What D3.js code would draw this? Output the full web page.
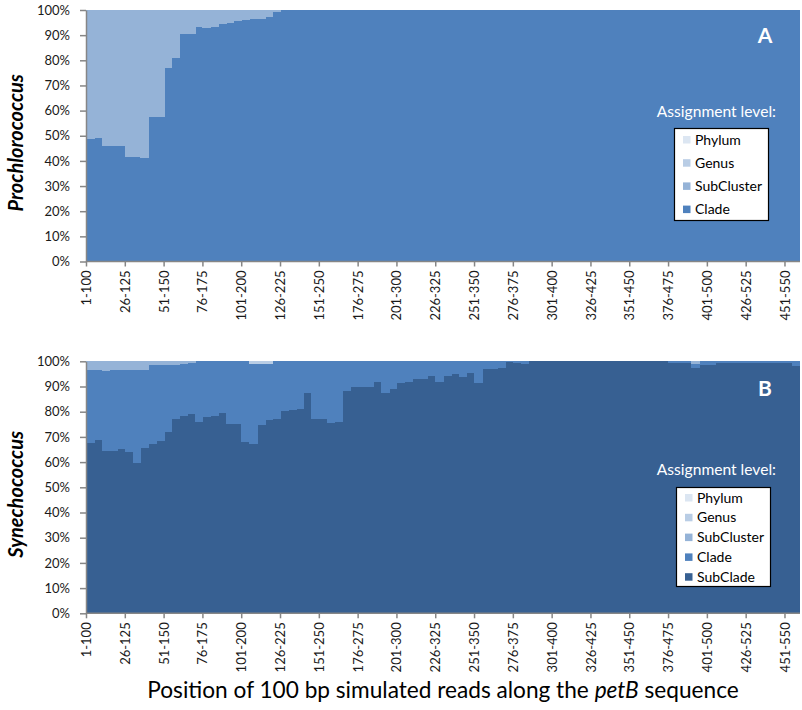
<!DOCTYPE html>
<html>
<head>
<meta charset="utf-8">
<script src="https://cdn.jsdelivr.net/npm/d3@7"></script>
<style>
  html, body { margin: 0; padding: 0; background: #fff; }
  svg { display: block; }
  text { font-family: Lato, "Open Sans", sans-serif; }
</style>
</head>
<body>
<script>
// ---------- DATA ----------
const categories = d3.range(92).map(i => `${1 + 5 * i}-${100 + 5 * i}`);
const tickLabels = categories.filter((c, i) => i % 5 === 0);
const yTicks = [0, 10, 20, 30, 40, 50, 60, 70, 80, 90, 100];

const levelsA = ["Phylum", "Genus", "SubCluster", "Clade"];
const levelsB = ["Phylum", "Genus", "SubCluster", "Clade", "SubClade"];
const levelColors = { Phylum: "#dce6f2", Genus: "#b9cde5", SubCluster: "#95b3d7", Clade: "#4f81bd", SubClade: "#376092" };

// Panel A: Prochlorococcus (% of reads)
const aClade = [48.6, 49.3, 46.0, 46.0, 46.0, 41.7, 41.7, 41.3, 57.6, 57.6,
  77.1, 80.8, 90.3, 90.3, 93.4, 92.7, 93.1, 94.3, 94.8, 95.7,
  95.9, 96.4, 96.5, 97.1, 99.1, 100, 100, 100, 100, 100,
  100, 100, 100, 100, 100, 100, 100, 100, 100, 100,
  100, 100, 100, 100, 100, 100, 100, 100, 100, 100,
  100, 100, 100, 100, 100, 100, 100, 100, 100, 100,
  100, 100, 100, 100, 100, 100, 100, 100, 100, 100,
  100, 100, 100, 100, 100, 100, 100, 100, 100, 100,
  100, 100, 100, 100, 100, 100, 100, 100, 100, 100,
  100, 100];
const aSubCluster = [51.4, 50.7, 54.0, 54.0, 54.0, 58.3, 58.3, 58.7, 42.4, 42.4,
  22.9, 19.2, 9.7, 9.7, 6.6, 7.3, 6.9, 5.7, 5.2, 4.3,
  4.1, 3.6, 3.5, 2.9, 0.9, 0, 0, 0, 0, 0,
  0, 0, 0, 0, 0, 0, 0, 0, 0, 0,
  0, 0, 0, 0, 0, 0, 0, 0, 0, 0,
  0, 0, 0, 0, 0, 0, 0, 0, 0, 0,
  0, 0, 0, 0, 0, 0, 0, 0, 0, 0,
  0, 0, 0, 0, 0, 0, 0, 0, 0, 0,
  0, 0, 0, 0, 0, 0, 0, 0, 0, 0,
  0, 0];
const aGenus = new Array(92).fill(0);
const aPhylum = new Array(92).fill(0);

// Panel B: Synechococcus (% of reads)
const bSubClade = [67.5, 68.8, 64.4, 64.4, 65.2, 63.9, 59.5, 65.7, 67.0, 68.4,
  71.8, 77.0, 78.3, 79.1, 76.0, 78.0, 78.3, 79.4, 75.0, 75.3,
  67.9, 67.2, 74.7, 76.6, 77.1, 80.3, 80.5, 80.9, 87.3, 77.0,
  77.0, 75.4, 76.1, 88.3, 90.0, 90.0, 90.0, 91.7, 87.6, 88.9,
  91.3, 91.9, 93.0, 92.9, 94.2, 91.7, 94.3, 94.8, 93.9, 95.5,
  91.3, 96.8, 97.1, 97.4, 99.7, 99.2, 98.9, 100, 100, 100,
  100, 100, 100, 100, 100, 100, 100, 100, 100, 100,
  100, 100, 100, 100, 100, 99.5, 99.5, 99.5, 97.5, 98.5,
  98.5, 99.5, 99.5, 99.5, 99.5, 99.5, 99.5, 99.5, 99.5, 99.5,
  99.5, 98.3];
const bClade = [29.0, 27.7, 31.8, 32.1, 31.3, 32.6, 37.0, 30.8, 31.5, 30.1,
  26.8, 21.7, 20.6, 20.4, 24.0, 22.0, 21.7, 20.6, 25.0, 24.7,
  32.1, 31.6, 24.1, 22.2, 22.9, 19.7, 19.5, 19.1, 12.7, 23.0,
  23.0, 24.6, 23.9, 11.7, 10.0, 10.0, 10.0, 8.3, 12.4, 11.1,
  8.7, 8.1, 7.0, 7.1, 5.8, 8.3, 5.7, 5.2, 6.1, 4.5,
  8.7, 3.2, 2.9, 2.6, 0.3, 0.8, 1.1, 0, 0, 0,
  0, 0, 0, 0, 0, 0, 0, 0, 0, 0,
  0, 0, 0, 0, 0, 0.5, 0.5, 0.5, 1.5, 1.5,
  1.5, 0.5, 0.5, 0.5, 0.5, 0.5, 0.5, 0.5, 0.5, 0.5,
  0.5, 1.7];
const bSubCluster = [3.5, 3.5, 3.8, 3.5, 3.5, 3.5, 3.5, 3.5, 1.5, 1.5,
  1.4, 1.3, 1.1, 0.5, 0, 0, 0, 0, 0, 0,
  0, 0, 0, 0, 0, 0, 0, 0, 0, 0,
  0, 0, 0, 0, 0, 0, 0, 0, 0, 0,
  0, 0, 0, 0, 0, 0, 0, 0, 0, 0,
  0, 0, 0, 0, 0, 0, 0, 0, 0, 0,
  0, 0, 0, 0, 0, 0, 0, 0, 0, 0,
  0, 0, 0, 0, 0, 0, 0, 0, 1.0, 0,
  0, 0, 0, 0, 0, 0, 0, 0, 0, 0,
  0, 0];
const bGenus = [0, 0, 0, 0, 0, 0, 0, 0, 0, 0,
  0, 0, 0, 0, 0, 0, 0, 0, 0, 0,
  0, 1.2, 1.2, 1.2, 0, 0, 0, 0, 0, 0,
  0, 0, 0, 0, 0, 0, 0, 0, 0, 0,
  0, 0, 0, 0, 0, 0, 0, 0, 0, 0,
  0, 0, 0, 0, 0, 0, 0, 0, 0, 0,
  0, 0, 0, 0, 0, 0, 0, 0, 0, 0,
  0, 0, 0, 0, 0, 0, 0, 0, 0, 0,
  0, 0, 0, 0, 0, 0, 0, 0, 0, 0,
  0, 0];
const bPhylum = new Array(92).fill(0);

// ---------- CHART ----------
const W = 802, H = 710;
const svg = d3.select("body").append("svg").attr("width", W).attr("height", H);
svg.append("rect").attr("width", W).attr("height", H).attr("fill", "#fff");

const axisColor = "#868686";
const left = 86, right = 800;

const xBand = d3.scaleBand().domain(categories).range([left, right]).paddingInner(0).paddingOuter(0);
const step = xBand.step();
const xPoint = d3.scalePoint().domain(categories).range([left, left + step * (categories.length - 1)]).padding(0);

function panel(cfg) {
  const y = d3.scaleLinear().domain([0, 100]).range([cfg.bottom, cfg.top]);
  const g = svg.append("g");

  const rows = categories.map((c, i) => {
    const r = { cat: c };
    cfg.levels.forEach(l => r[l] = cfg.series[l][i]);
    return r;
  });
  const stackOrder = cfg.levels.slice().reverse(); // bottom first
  const stacked = d3.stack().keys(stackOrder)(rows);

  g.selectAll("g.layer").data(stacked).join("g")
    .attr("class", "layer")
    .attr("fill", d => levelColors[d.key])
    .attr("shape-rendering", "crispEdges")
    .selectAll("rect").data(d => d.filter(p => p[1] - p[0] > 0)).join("rect")
    .attr("x", d => Math.round(xBand(d.data.cat)))
    .attr("width", d => Math.round(xBand(d.data.cat) + step) - Math.round(xBand(d.data.cat)) + (d.data.cat === categories[categories.length - 1] ? 0 : 1))
    .attr("y", d => y(d[1]))
    .attr("height", d => y(d[0]) - y(d[1]));

  // y axis
  const ya = g.append("g").attr("transform", `translate(${left},0)`)
    .call(d3.axisLeft(y).tickValues(yTicks).tickFormat(d => d + "%").tickSize(6).tickPadding(10).tickSizeOuter(0));
  ya.select(".domain").attr("stroke", axisColor).attr("stroke-width", 1.5);
  ya.selectAll(".tick line").attr("stroke", axisColor).attr("stroke-width", 1.5);
  ya.selectAll("text").attr("font-size", 13).attr("fill", "#1a1a1a").attr("font-family", "Lato, sans-serif");

  // x axis
  const xa = g.append("g").attr("transform", `translate(0,${cfg.bottom})`)
    .call(d3.axisBottom(xPoint).tickValues(tickLabels).tickSize(5).tickSizeOuter(0));
  xa.select(".domain").attr("d", `M${left},0H${right}`).attr("stroke", axisColor).attr("stroke-width", 1.5);
  xa.selectAll(".tick line").attr("stroke", axisColor).attr("stroke-width", 1.5);
  xa.selectAll("text")
    .attr("font-size", 13).attr("fill", "#1a1a1a").attr("font-family", "Lato, sans-serif")
    .attr("transform", "rotate(-90)")
    .attr("text-anchor", "end")
    .attr("x", -9).attr("y", 0).attr("dy", "0.35em");

  // y title
  const mid = (cfg.top + cfg.bottom) / 2 + 7;
  svg.append("text")
    .attr("transform", `translate(23,${mid}) rotate(-90)`)
    .attr("text-anchor", "middle")
    .attr("font-size", 20).attr("font-weight", "bold").attr("font-style", "italic")
    .attr("fill", "#000")
    .text(cfg.title);

  // panel letter
  svg.append("text").attr("x", 765).attr("y", cfg.letterY)
    .attr("text-anchor", "middle").attr("font-size", 21).attr("font-weight", "bold")
    .attr("fill", "#fff").text(cfg.letter);

  // legend header
  svg.append("text").attr("x", 776).attr("y", cfg.headerY)
    .attr("text-anchor", "end").attr("font-size", 15.6).attr("fill", "#fff")
    .text("Assignment level:");

  // legend box
  const lg = svg.append("g");
  lg.append("rect").attr("x", cfg.box[0] + 0.5).attr("y", cfg.box[1] + 0.5)
    .attr("width", cfg.box[2]).attr("height", cfg.box[3])
    .attr("fill", "#fff").attr("stroke", "#000").attr("stroke-width", 1.2);
  cfg.levels.forEach((l, i) => {
    const cy = cfg.itemY0 + i * cfg.itemStep;
    lg.append("rect").attr("x", cfg.box[0] + 9).attr("y", cy - 3.5).attr("width", 7.5).attr("height", 7.5)
      .attr("fill", levelColors[l]);
    lg.append("text").attr("x", cfg.box[0] + 21).attr("y", cy).attr("dy", "0.36em")
      .attr("font-size", 14).attr("fill", "#000").text(l);
  });
}

panel({
  top: 10, bottom: 261.5, title: "Prochlorococcus", letter: "A", letterY: 43, headerY: 117,
  levels: levelsA,
  series: { Phylum: aPhylum, Genus: aGenus, SubCluster: aSubCluster, Clade: aClade },
  box: [674, 128, 94, 92], itemY0: 139.5, itemStep: 23.2
});

panel({
  top: 361.3, bottom: 613.3, title: "Synechococcus", letter: "B", letterY: 396, headerY: 475,
  levels: levelsB,
  series: { Phylum: bPhylum, Genus: bGenus, SubCluster: bSubCluster, Clade: bClade, SubClade: bSubClade },
  box: [676, 487, 94, 99], itemY0: 497.5, itemStep: 19.8
});

// x title
const xt = svg.append("text").attr("x", 443).attr("y", 698).attr("text-anchor", "middle")
  .attr("font-size", 19).attr("fill", "#000");
xt.append("tspan").text("Position of 100 bp simulated reads along the ");
xt.append("tspan").attr("font-style", "italic").text("petB");
xt.append("tspan").text(" sequence");
const tl = xt.node().getComputedTextLength();
if (tl > 0) xt.attr("font-size", 19 * 592 / tl);
</script>
</body>
</html>
